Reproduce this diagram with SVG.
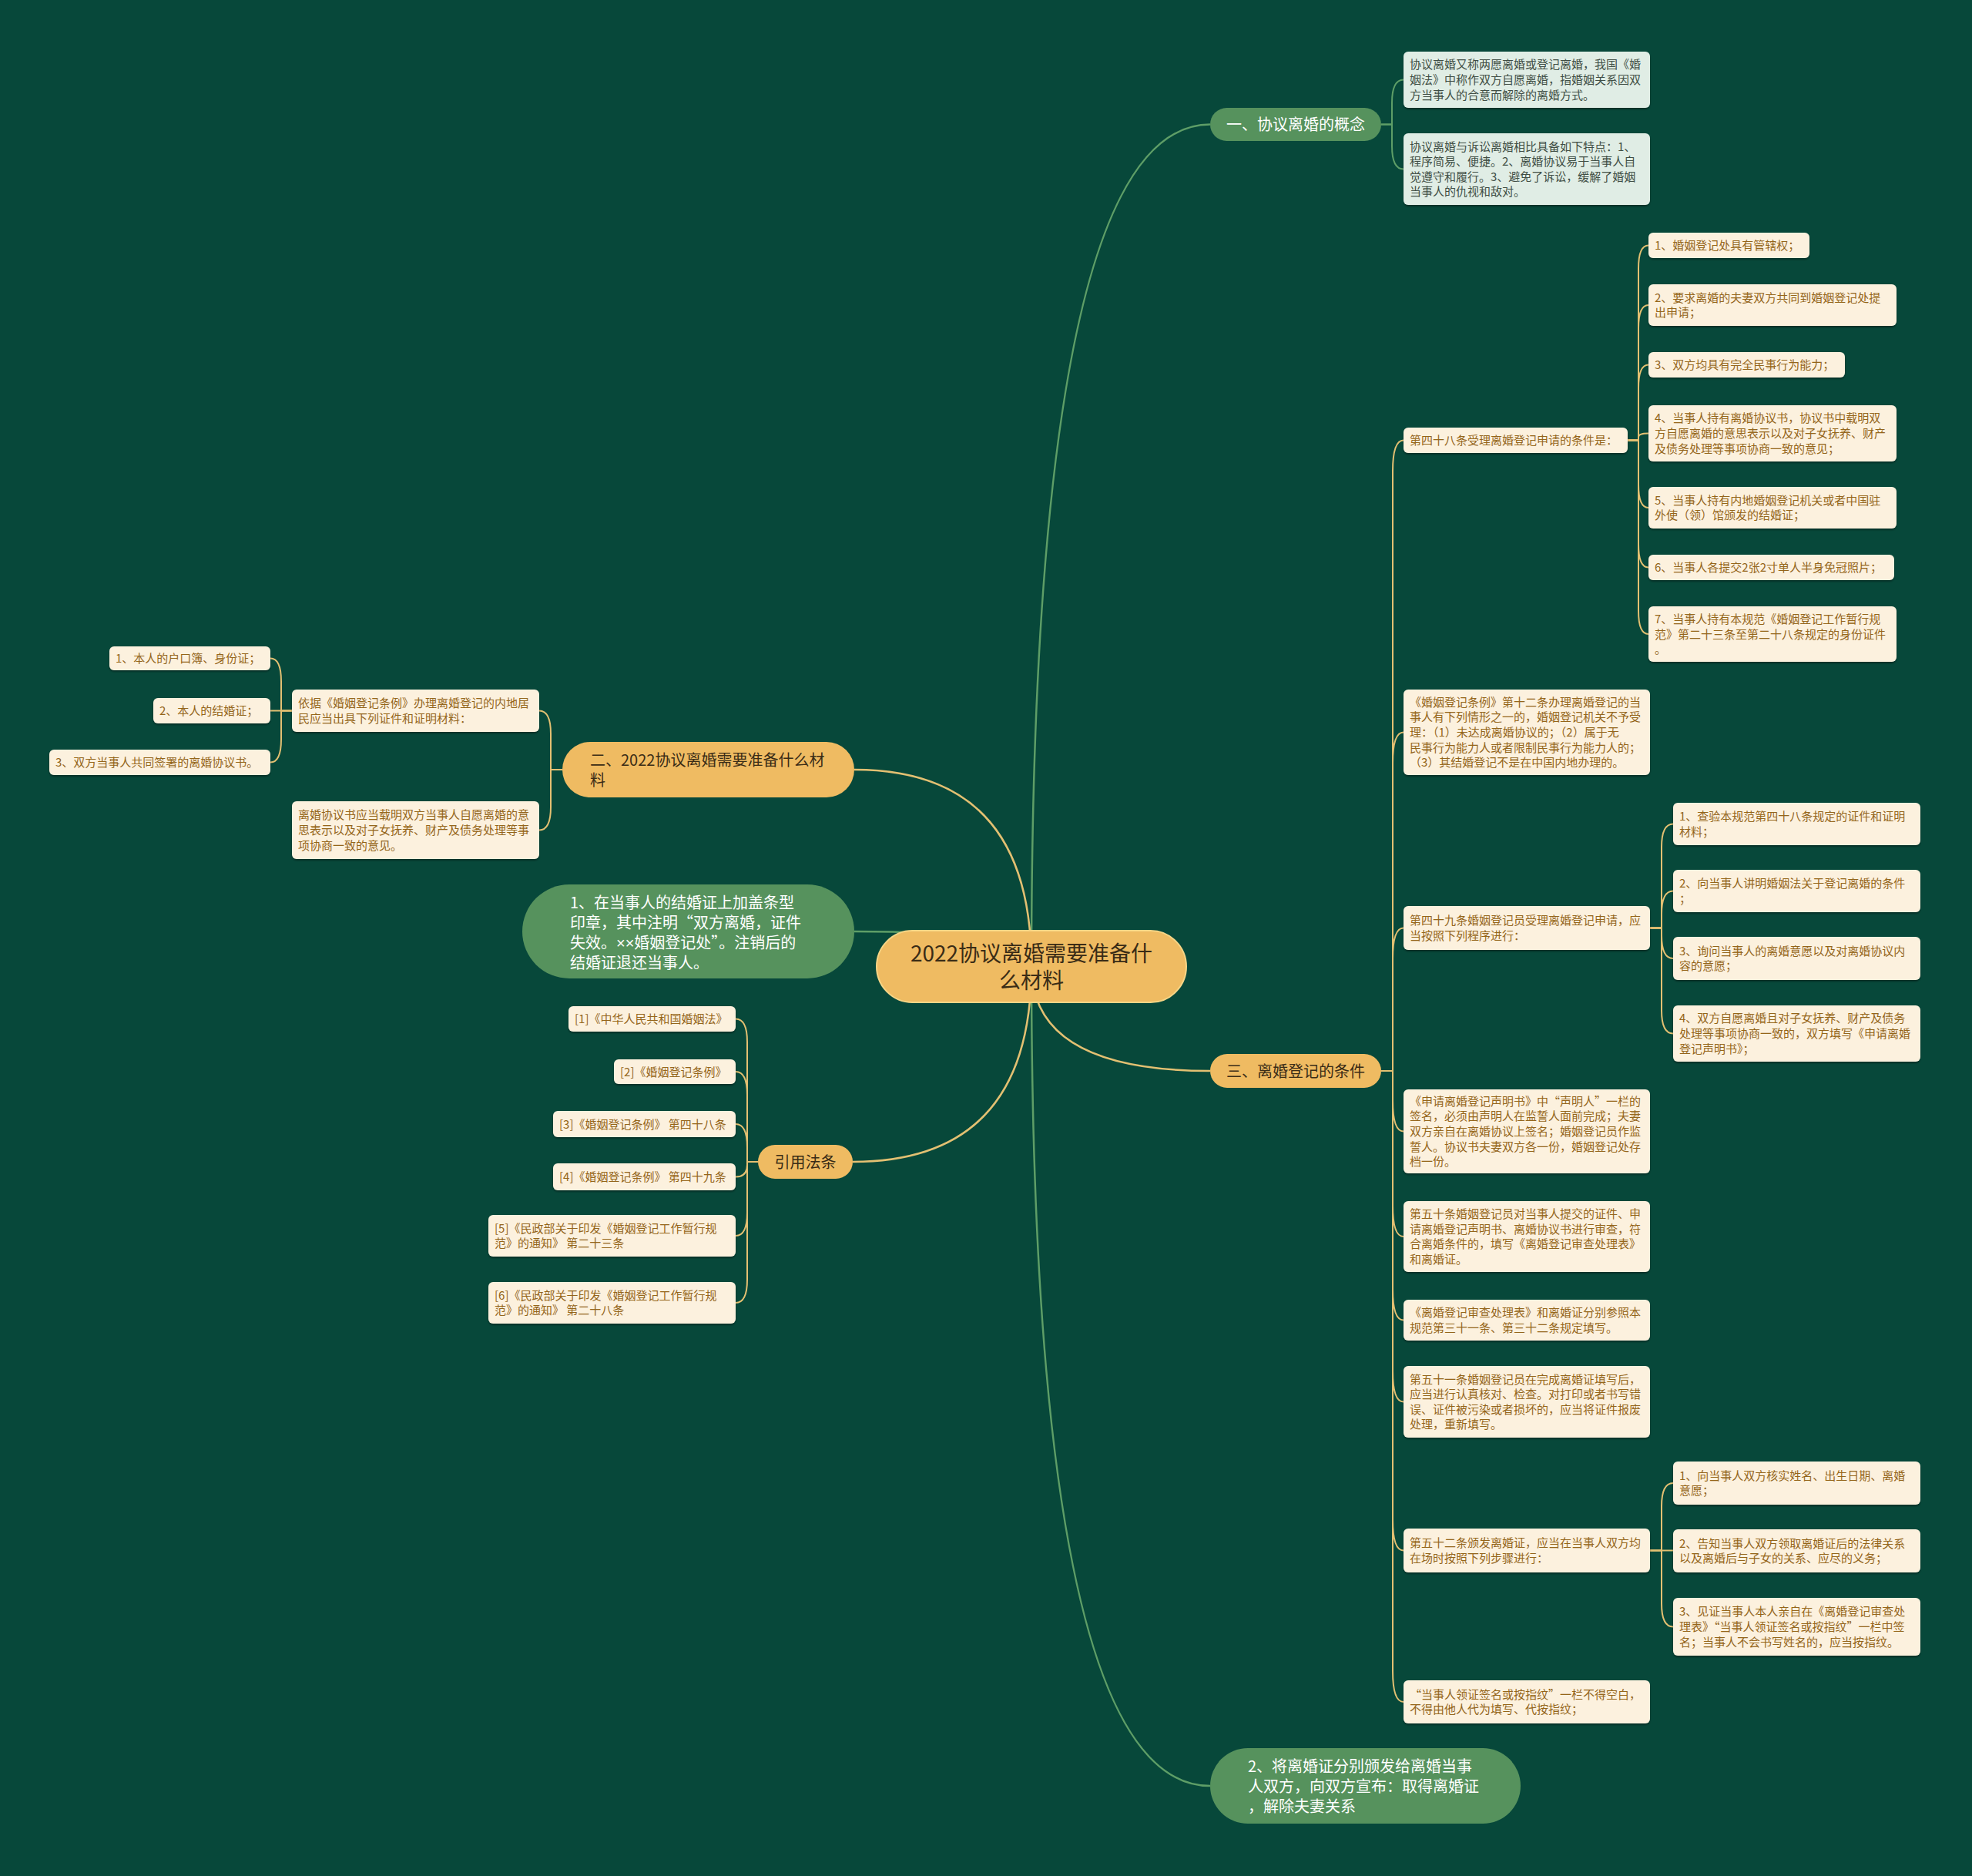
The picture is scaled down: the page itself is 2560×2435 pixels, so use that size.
<svg xmlns="http://www.w3.org/2000/svg" width="2560" height="2435" viewBox="0 0 2560 2435">
<defs>
<filter id="sh" x="-5%" y="-10%" width="110%" height="130%"><feDropShadow dx="0" dy="2" stdDeviation="1.2" flood-color="#000" flood-opacity="0.35"/></filter>
<style>
text{font-family:"Noto Sans CJK SC","Noto Sans",sans-serif}
.leaf rect{fill:#fcf1de;filter:url(#sh)}
.leaf text{fill:#94651a;font-size:15px}
.mint rect{fill:#e0ede5;filter:url(#sh)}
.mint text{fill:#3f4d44;font-size:15px}
.opill rect{fill:#efbb62}
.opill text{fill:#3a2c16;font-size:20px}
.gpill rect{fill:#56925d}
.gpill text{fill:#ffffff;font-size:20px}
.cy{fill:none;stroke:#e3c072;stroke-width:2}
.cg{fill:none;stroke:#5e9e67;stroke-width:2}
.my{fill:none;stroke:#e3c072;stroke-width:2.5}
.mg{fill:none;stroke:#5e9e67;stroke-width:2.5}
.lat{font-family:"Liberation Sans",sans-serif}
</style>
</defs>
<rect width="2560" height="2435" fill="#07483a"/>
<g id="connectors">
<path class="mg" d="M1339 1254 Q1339 161.5 1571 161.5"/>
<path class="my" d="M1339 1254 Q1339 999 1109 999"/>
<path class="mg" d="M1339 1254 Q1339 1209 1109 1209"/>
<path class="my" d="M1339 1254 Q1339 1508 1107 1508"/>
<path class="my" d="M1339 1254 Q1339 1390 1571 1390"/>
<path class="mg" d="M1339 1254 Q1339 2318 1571 2318"/>
<path class="cg" d="M1793 161.5 H1807 V133.5 Q1807 103.5 1822 103.5"/>
<path class="cg" d="M1793 161.5 H1807 V189.5 Q1807 219.5 1822 219.5"/>
<path class="cy" d="M1793 1390 H1808 V611.5 Q1808 571.5 1822 571.5"/>
<path class="cy" d="M1793 1390 H1808 V990.5 Q1808 950.5 1822 950.5"/>
<path class="cy" d="M1793 1390 H1808 V1244.5 Q1808 1204.5 1822 1204.5"/>
<path class="cy" d="M1793 1390 H1808 V1428.5 Q1808 1468.5 1822 1468.5"/>
<path class="cy" d="M1793 1390 H1808 V1565 Q1808 1605 1822 1605"/>
<path class="cy" d="M1793 1390 H1808 V1673.5 Q1808 1713.5 1822 1713.5"/>
<path class="cy" d="M1793 1390 H1808 V1779.5 Q1808 1819.5 1822 1819.5"/>
<path class="cy" d="M1793 1390 H1808 V1972.5 Q1808 2012.5 1822 2012.5"/>
<path class="cy" d="M1793 1390 H1808 V2169 Q1808 2209 1822 2209"/>
<path class="cy" d="M2113 571.5 H2127 V348.5 Q2127 318.5 2140 318.5"/>
<path class="cy" d="M2113 571.5 H2127 V426 Q2127 396 2140 396"/>
<path class="cy" d="M2113 571.5 H2127 V503.5 Q2127 473.5 2140 473.5"/>
<path class="cy" d="M2113 571.5 H2127 V567 Q2127 562.5 2140 562.5"/>
<path class="cy" d="M2113 571.5 H2127 V629 Q2127 659 2140 659"/>
<path class="cy" d="M2113 571.5 H2127 V706.5 Q2127 736.5 2140 736.5"/>
<path class="cy" d="M2113 571.5 H2127 V793 Q2127 823 2140 823"/>
<path class="cy" d="M2142 1204.5 H2157 V1099.5 Q2157 1069.5 2172 1069.5"/>
<path class="cy" d="M2142 1204.5 H2157 V1186.5 Q2157 1156.5 2172 1156.5"/>
<path class="cy" d="M2142 1204.5 H2157 V1214 Q2157 1244 2172 1244"/>
<path class="cy" d="M2142 1204.5 H2157 V1311.5 Q2157 1341.5 2172 1341.5"/>
<path class="cy" d="M2142 2012.5 H2157 V1955 Q2157 1925 2172 1925"/>
<path class="cy" d="M2142 2012.5 H2172"/>
<path class="cy" d="M2142 2012.5 H2157 V2081.5 Q2157 2111.5 2172 2111.5"/>
<path class="cy" d="M730 999 H715 V952.5 Q715 922.5 700 922.5"/>
<path class="cy" d="M730 999 H715 V1047.5 Q715 1077.5 700 1077.5"/>
<path class="cy" d="M379 922.5 H365 V884.5 Q365 854.5 351 854.5"/>
<path class="cy" d="M379 922.5 H351"/>
<path class="cy" d="M379 922.5 H365 V959.5 Q365 989.5 351 989.5"/>
<path class="cy" d="M984 1508 H970 V1352.5 Q970 1322.5 955 1322.5"/>
<path class="cy" d="M984 1508 H970 V1421 Q970 1391 955 1391"/>
<path class="cy" d="M984 1508 H970 V1489 Q970 1459 955 1459"/>
<path class="cy" d="M984 1508 H970 V1512 Q970 1527.5 955 1527.5"/>
<path class="cy" d="M984 1508 H970 V1574 Q970 1604 955 1604"/>
<path class="cy" d="M984 1508 H970 V1661 Q970 1691 955 1691"/>
</g>

<g id="central" class="opill">
<rect x="1138" y="1208" width="402" height="93" rx="46.5" style="stroke:#f6d586;stroke-width:2"/>
<text text-anchor="middle" style="font-size:28px"><tspan x="1339" y="1248">2022协议离婚需要准备什</tspan><tspan x="1339" y="1283">么材料</tspan></text>
</g>

<g id="b1" class="gpill">
<rect x="1571" y="140" width="222" height="43" rx="21.5"/>
<text x="1682" y="169" text-anchor="middle">一、协议离婚的概念</text>
</g>
<g id="b1c1" class="mint">
<rect x="1822" y="67" width="320" height="73" rx="6"/>
<text><tspan x="1830" y="89.4">协议离婚又称两愿离婚或登记离婚，我国《婚</tspan><tspan x="1830" y="109">姻法》中称作双方自愿离婚，指婚姻关系因双</tspan><tspan x="1830" y="128.6">方当事人的合意而解除的离婚方式。</tspan></text>
</g>
<g id="b1c2" class="mint">
<rect x="1822" y="173" width="320" height="93" rx="6"/>
<text><tspan x="1830" y="195.6">协议离婚与诉讼离婚相比具备如下特点：1、</tspan><tspan x="1830" y="215.2">程序简易、便捷。2、离婚协议易于当事人自</tspan><tspan x="1830" y="234.8">觉遵守和履行。3、避免了诉讼，缓解了婚姻</tspan><tspan x="1830" y="254.4">当事人的仇视和敌对。</tspan></text>
</g>

<g id="b3" class="opill">
<rect x="1571" y="1368" width="222" height="44" rx="22"/>
<text x="1682" y="1397.6" text-anchor="middle">三、离婚登记的条件</text>
</g>

<g id="n48" class="leaf">
<rect x="1822" y="555" width="291" height="33" rx="6"/>
<text x="1830" y="577">第四十八条受理离婚登记申请的条件是：</text>
</g>
<g id="n48c1" class="leaf">
<rect x="2140" y="302" width="209" height="33" rx="6"/>
<text x="2148" y="324">1、婚姻登记处具有管辖权；</text>
</g>
<g id="n48c2" class="leaf">
<rect x="2140" y="369" width="322" height="54" rx="6"/>
<text><tspan x="2148" y="391.7">2、要求离婚的夫妻双方共同到婚姻登记处提</tspan><tspan x="2148" y="411.3">出申请；</tspan></text>
</g>
<g id="n48c3" class="leaf">
<rect x="2140" y="457" width="255" height="33" rx="6"/>
<text x="2148" y="479">3、双方均具有完全民事行为能力；</text>
</g>
<g id="n48c4" class="leaf">
<rect x="2140" y="526" width="322" height="73" rx="6"/>
<text><tspan x="2148" y="548.4">4、当事人持有离婚协议书，协议书中载明双</tspan><tspan x="2148" y="568">方自愿离婚的意思表示以及对子女抚养、财产</tspan><tspan x="2148" y="587.6">及债务处理等事项协商一致的意见；</tspan></text>
</g>
<g id="n48c5" class="leaf">
<rect x="2140" y="632" width="322" height="54" rx="6"/>
<text><tspan x="2148" y="654.7">5、当事人持有内地婚姻登记机关或者中国驻</tspan><tspan x="2148" y="674.3">外使（领）馆颁发的结婚证；</tspan></text>
</g>
<g id="n48c6" class="leaf">
<rect x="2140" y="720" width="319" height="33" rx="6"/>
<text x="2148" y="742">6、当事人各提交2张2寸单人半身免冠照片；</text>
</g>
<g id="n48c7" class="leaf">
<rect x="2140" y="787" width="322" height="72" rx="6"/>
<text><tspan x="2148" y="808.9">7、当事人持有本规范《婚姻登记工作暂行规</tspan><tspan x="2148" y="828.5">范》第二十三条至第二十八条规定的身份证件</tspan><tspan x="2148" y="848.1">。</tspan></text>
</g>

<g id="n12" class="leaf">
<rect x="1822" y="895" width="320" height="111" rx="6"/>
<text><tspan x="1830" y="916.8">《婚姻登记条例》第十二条办理离婚登记的当</tspan><tspan x="1830" y="936.4">事人有下列情形之一的，婚姻登记机关不予受</tspan><tspan x="1830" y="956">理：（1）未达成离婚协议的；（2）属于无</tspan><tspan x="1830" y="975.6">民事行为能力人或者限制民事行为能力人的；</tspan><tspan x="1830" y="995.2">（3）其结婚登记不是在中国内地办理的。</tspan></text>
</g>

<g id="n49" class="leaf">
<rect x="1822" y="1176" width="320" height="57" rx="6"/>
<text><tspan x="1830" y="1200.2">第四十九条婚姻登记员受理离婚登记申请，应</tspan><tspan x="1830" y="1219.8">当按照下列程序进行：</tspan></text>
</g>
<g id="n49c1" class="leaf">
<rect x="2172" y="1042" width="321" height="55" rx="6"/>
<text><tspan x="2180" y="1065.2">1、查验本规范第四十八条规定的证件和证明</tspan><tspan x="2180" y="1084.8">材料；</tspan></text>
</g>
<g id="n49c2" class="leaf">
<rect x="2172" y="1129" width="321" height="55" rx="6"/>
<text><tspan x="2180" y="1152.2">2、向当事人讲明婚姻法关于登记离婚的条件</tspan><tspan x="2180" y="1171.8">；</tspan></text>
</g>
<g id="n49c3" class="leaf">
<rect x="2172" y="1216" width="321" height="56" rx="6"/>
<text><tspan x="2180" y="1239.7">3、询问当事人的离婚意愿以及对离婚协议内</tspan><tspan x="2180" y="1259.3">容的意愿；</tspan></text>
</g>
<g id="n49c4" class="leaf">
<rect x="2172" y="1305" width="321" height="73" rx="6"/>
<text><tspan x="2180" y="1327.4">4、双方自愿离婚且对子女抚养、财产及债务</tspan><tspan x="2180" y="1347">处理等事项协商一致的，双方填写《申请离婚</tspan><tspan x="2180" y="1366.6">登记声明书》；</tspan></text>
</g>

<g id="nsm" class="leaf">
<rect x="1822" y="1414" width="320" height="109" rx="6"/>
<text><tspan x="1830" y="1434.8">《申请离婚登记声明书》中“声明人”一栏的</tspan><tspan x="1830" y="1454.4">签名，必须由声明人在监誓人面前完成；夫妻</tspan><tspan x="1830" y="1474">双方亲自在离婚协议上签名；婚姻登记员作监</tspan><tspan x="1830" y="1493.6">誓人。协议书夫妻双方各一份，婚姻登记处存</tspan><tspan x="1830" y="1513.2">档一份。</tspan></text>
</g>
<g id="n50" class="leaf">
<rect x="1822" y="1559" width="320" height="92" rx="6"/>
<text><tspan x="1830" y="1581.1">第五十条婚姻登记员对当事人提交的证件、申</tspan><tspan x="1830" y="1600.7">请离婚登记声明书、离婚协议书进行审查，符</tspan><tspan x="1830" y="1620.3">合离婚条件的，填写《离婚登记审查处理表》</tspan><tspan x="1830" y="1639.9">和离婚证。</tspan></text>
</g>
<g id="nbiao" class="leaf">
<rect x="1822" y="1687" width="320" height="53" rx="6"/>
<text><tspan x="1830" y="1709.2">《离婚登记审查处理表》和离婚证分别参照本</tspan><tspan x="1830" y="1728.8">规范第三十一条、第三十二条规定填写。</tspan></text>
</g>
<g id="n51" class="leaf">
<rect x="1822" y="1773" width="320" height="93" rx="6"/>
<text><tspan x="1830" y="1795.6">第五十一条婚姻登记员在完成离婚证填写后，</tspan><tspan x="1830" y="1815.2">应当进行认真核对、检查。对打印或者书写错</tspan><tspan x="1830" y="1834.8">误、证件被污染或者损坏的，应当将证件报废</tspan><tspan x="1830" y="1854.4">处理，重新填写。</tspan></text>
</g>
<g id="n52" class="leaf">
<rect x="1822" y="1984" width="320" height="57" rx="6"/>
<text><tspan x="1830" y="2008.2">第五十二条颁发离婚证，应当在当事人双方均</tspan><tspan x="1830" y="2027.8">在场时按照下列步骤进行：</tspan></text>
</g>
<g id="n52c1" class="leaf">
<rect x="2172" y="1897" width="321" height="56" rx="6"/>
<text><tspan x="2180" y="1920.7">1、向当事人双方核实姓名、出生日期、离婚</tspan><tspan x="2180" y="1940.3">意愿；</tspan></text>
</g>
<g id="n52c2" class="leaf">
<rect x="2172" y="1985" width="321" height="56" rx="6"/>
<text><tspan x="2180" y="2008.7">2、告知当事人双方领取离婚证后的法律关系</tspan><tspan x="2180" y="2028.3">以及离婚后与子女的关系、应尽的义务；</tspan></text>
</g>
<g id="n52c3" class="leaf">
<rect x="2172" y="2074" width="321" height="75" rx="6"/>
<text><tspan x="2180" y="2097.4">3、见证当事人本人亲自在《离婚登记审查处</tspan><tspan x="2180" y="2117">理表》“当事人领证签名或按指纹”一栏中签</tspan><tspan x="2180" y="2136.6">名；当事人不会书写姓名的，应当按指纹。</tspan></text>
</g>
<g id="nkb" class="leaf">
<rect x="1822" y="2181" width="320" height="56" rx="6"/>
<text><tspan x="1830" y="2204.7">“当事人领证签名或按指纹”一栏不得空白，</tspan><tspan x="1830" y="2224.3">不得由他人代为填写、代按指纹；</tspan></text>
</g>

<g id="b4" class="gpill">
<rect x="1571" y="2269" width="403" height="98" rx="49"/>
<text><tspan x="1620" y="2299.6">2、将离婚证分别颁发给离婚当事</tspan><tspan x="1620" y="2325.6">人双方，向双方宣布：取得离婚证</tspan><tspan x="1620" y="2351.6">，解除夫妻关系</tspan></text>
</g>

<g id="b2" class="opill">
<rect x="730" y="963" width="379" height="72" rx="36"/>
<text><tspan x="766" y="993.6">二、2022协议离婚需要准备什么材</tspan><tspan x="766" y="1019.6">料</tspan></text>
</g>
<g id="b2c1" class="leaf">
<rect x="379" y="895" width="321" height="55" rx="6"/>
<text><tspan x="387" y="918.2">依据《婚姻登记条例》办理离婚登记的内地居</tspan><tspan x="387" y="937.8">民应当出具下列证件和证明材料：</tspan></text>
</g>
<g id="b2c1a" class="leaf">
<rect x="142" y="839" width="209" height="31" rx="6"/>
<text x="150" y="860">1、本人的户口簿、身份证；</text>
</g>
<g id="b2c1b" class="leaf">
<rect x="199" y="906" width="152" height="33" rx="6"/>
<text x="207" y="928">2、本人的结婚证；</text>
</g>
<g id="b2c1c" class="leaf">
<rect x="64" y="973" width="287" height="33" rx="6"/>
<text x="72" y="995">3、双方当事人共同签署的离婚协议书。</text>
</g>
<g id="b2c2" class="leaf">
<rect x="379" y="1040" width="321" height="75" rx="6"/>
<text><tspan x="387" y="1063.4">离婚协议书应当载明双方当事人自愿离婚的意</tspan><tspan x="387" y="1083">思表示以及对子女抚养、财产及债务处理等事</tspan><tspan x="387" y="1102.6">项协商一致的意见。</tspan></text>
</g>

<g id="b5" class="gpill">
<rect x="678" y="1148" width="431" height="122" rx="61"/>
<text><tspan x="740" y="1178.6">1、在当事人的结婚证上加盖条型</tspan><tspan x="740" y="1204.6">印章，其中注明“双方离婚，证件</tspan><tspan x="740" y="1230.6">失效。<tspan class="lat">××</tspan>婚姻登记处”。注销后的</tspan><tspan x="740" y="1256.6">结婚证退还当事人。</tspan></text>
</g>

<g id="b6" class="opill">
<rect x="984" y="1486" width="123" height="44" rx="22"/>
<text x="1045.5" y="1515.6" text-anchor="middle">引用法条</text>
</g>
<g id="r1" class="leaf">
<rect x="738" y="1306" width="217" height="33" rx="6"/>
<text x="746" y="1328">[1]《中华人民共和国婚姻法》</text>
</g>
<g id="r2" class="leaf">
<rect x="797" y="1375" width="158" height="32" rx="6"/>
<text x="805" y="1396.5">[2]《婚姻登记条例》</text>
</g>
<g id="r3" class="leaf">
<rect x="718" y="1442" width="237" height="34" rx="6"/>
<text x="726" y="1464.5">[3]《婚姻登记条例》 第四十八条</text>
</g>
<g id="r4" class="leaf">
<rect x="718" y="1510" width="237" height="35" rx="6"/>
<text x="726" y="1533">[4]《婚姻登记条例》 第四十九条</text>
</g>
<g id="r5" class="leaf">
<rect x="634" y="1577" width="321" height="54" rx="6"/>
<text><tspan x="642" y="1599.7">[5]《民政部关于印发《婚姻登记工作暂行规</tspan><tspan x="642" y="1619.3">范》的通知》 第二十三条</tspan></text>
</g>
<g id="r6" class="leaf">
<rect x="634" y="1664" width="321" height="54" rx="6"/>
<text><tspan x="642" y="1686.7">[6]《民政部关于印发《婚姻登记工作暂行规</tspan><tspan x="642" y="1706.3">范》的通知》 第二十八条</tspan></text>
</g>
</svg>
